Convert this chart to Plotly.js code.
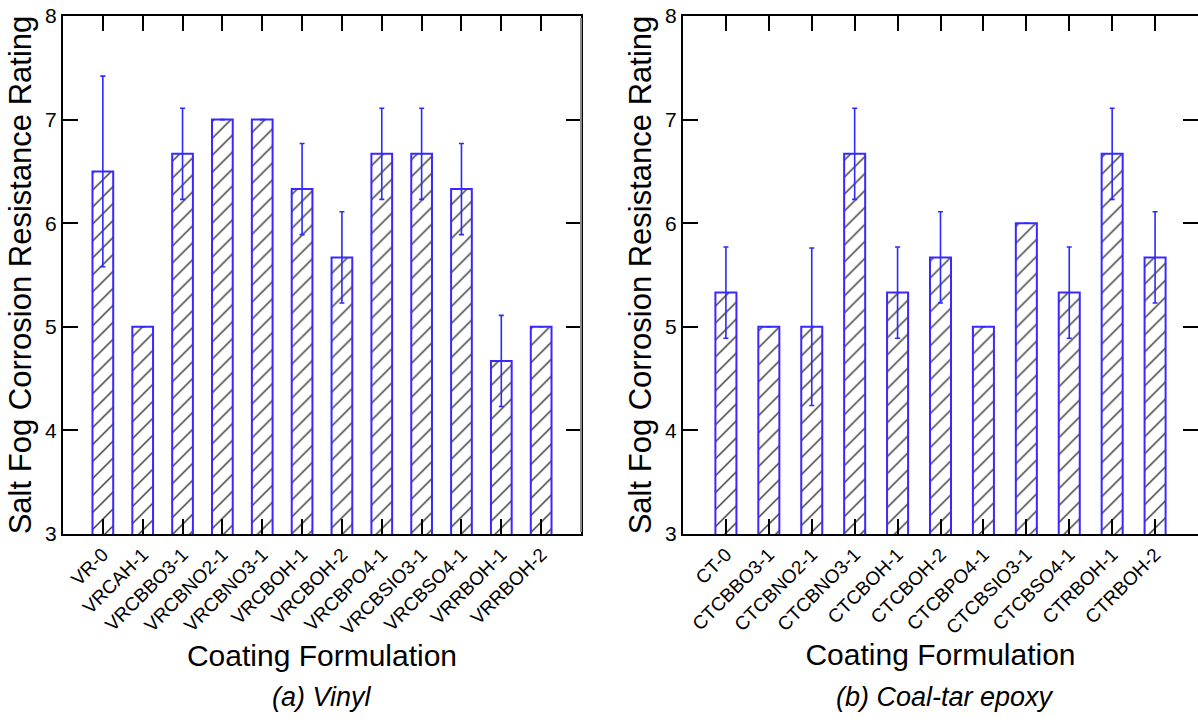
<!DOCTYPE html>
<html>
<head>
<meta charset="utf-8">
<script src="https://cdn.plot.ly/plotly-3.0.1.min.js"></script>
<style>html,body{margin:0;padding:0;background:#fff;}#chart{width:1198px;height:722px;}</style>
</head>
<body>
<div id="chart"></div>
<script>
// Vinyl coatings
const vinylCats = ['VR-0','VRCAH-1','VRCBBO3-1','VRCBNO2-1','VRCBNO3-1','VRCBOH-1','VRCBOH-2','VRCBPO4-1','VRCBSIO3-1','VRCBSO4-1','VRRBOH-1','VRRBOH-2'];
const vinylVals = [6.5, 5.0, 6.67, 7.0, 7.0, 6.33, 5.67, 6.67, 6.67, 6.33, 4.67, 5.0];
const vinylErr  = [0.92, 0, 0.44, 0, 0, 0.44, 0.44, 0.44, 0.44, 0.44, 0.44, 0];

// Coal-tar epoxy coatings
const ctCats = ['CT-0','CTCBBO3-1','CTCBNO2-1','CTCBNO3-1','CTCBOH-1','CTCBOH-2','CTCBPO4-1','CTCBSIO3-1','CTCBSO4-1','CTRBOH-1','CTRBOH-2'];
const ctVals = [5.33, 5.0, 5.0, 6.67, 5.33, 5.67, 5.0, 6.0, 5.33, 6.67, 5.67];
const ctErr  = [0.44, 0, 0.76, 0.44, 0.44, 0.44, 0, 0, 0.44, 0.44, 0.44];

const yTitle = 'Salt Fog Corrosion Resistance Rating';
const xTitle = 'Coating Formulation';
const subA = '(a) Vinyl';
const subB = '(b) Coal-tar epoxy';

const FONT = 'Liberation Sans, Arial, Helvetica, sans-serif';
const BLUE = '#3a28ff';
const EBLUE = '#2b2bff';

function barTrace(x, y, err, xa, ya, w) {
  return {
    type: 'bar', x: x, y: y, xaxis: xa, yaxis: ya, width: w,
    marker: {
      color: 'white',
      line: {color: BLUE, width: 2},
      pattern: {shape: '/', fgcolor: '#3a3a3a', bgcolor: 'white', size: 12, solidity: 0.12}
    },
    error_y: {type: 'data', array: err, visible: true, color: EBLUE, thickness: 1.6, width: 2.5},
    hoverinfo: 'x+y', showlegend: false
  };
}

function xAxis(domain, range, anchor) {
  return {
    domain: domain, anchor: anchor, type: 'category', range: range,
    showline: true, linecolor: 'black', linewidth: 2, mirror: 'ticks',
    ticks: 'inside', ticklen: 15, tickwidth: 2, tickcolor: 'black',
    tickangle: -45, tickfont: {family: FONT, size: 19, color: 'black'},
    showgrid: false, zeroline: false,
    title: {text: xTitle, font: {family: FONT, size: 30, color: 'black'}, standoff: 5}
  };
}
function yAxis(domain, anchor) {
  return {
    domain: domain, anchor: anchor, range: [3, 8], dtick: 1, tick0: 3,
    showline: true, linecolor: 'black', linewidth: 2, mirror: 'ticks',
    ticks: 'inside', ticklen: 15, tickwidth: 2, tickcolor: 'black',
    tickfont: {family: FONT, size: 21, color: 'black'},
    showgrid: false, zeroline: false,
    title: {text: yTitle, font: {family: FONT, size: 31, color: 'black'}, standoff: 4}
  };
}

const yDom = [1 - 534/722, 1 - 16/722];
const layout = {
  width: 1198, height: 722,
  margin: {l: 0, r: 0, t: 0, b: 0},
  paper_bgcolor: 'white', plot_bgcolor: 'white',
  font: {family: FONT, color: 'black'},
  xaxis: xAxis([63/1198, 581/1198], [-1, 12], 'y'),
  yaxis: yAxis(yDom, 'x'),
  xaxis2: xAxis([683/1198, 1], [-1, 11], 'y2'),
  yaxis2: yAxis(yDom, 'x2'),
  shapes: [
    {type: 'line', xref: 'x domain', yref: 'y domain', x0: 1, x1: 1, y0: 0.004, y1: 0.996,
     line: {color: '#8a8a8a', width: 2}, layer: 'above'}
  ],
  annotations: [
    {text: subA, xref: 'paper', yref: 'paper', x: 322/1198, y: 1 - 697/722, xanchor: 'center', yanchor: 'middle', showarrow: false,
     font: {family: FONT, size: 27, color: 'black', style: 'italic'}},
    {text: subB, xref: 'paper', yref: 'paper', x: 945/1198, y: 1 - 697/722, xanchor: 'center', yanchor: 'middle', showarrow: false,
     font: {family: FONT, size: 27, color: 'black', style: 'italic'}}
  ]
};

const data = [
  barTrace(vinylCats, vinylVals, vinylErr, 'x', 'y', 0.52),
  barTrace(ctCats, ctVals, ctErr, 'x2', 'y2', 0.49)
];

Plotly.newPlot('chart', data, layout, {displayModeBar: false, staticPlot: true});
</script>
</body>
</html>
